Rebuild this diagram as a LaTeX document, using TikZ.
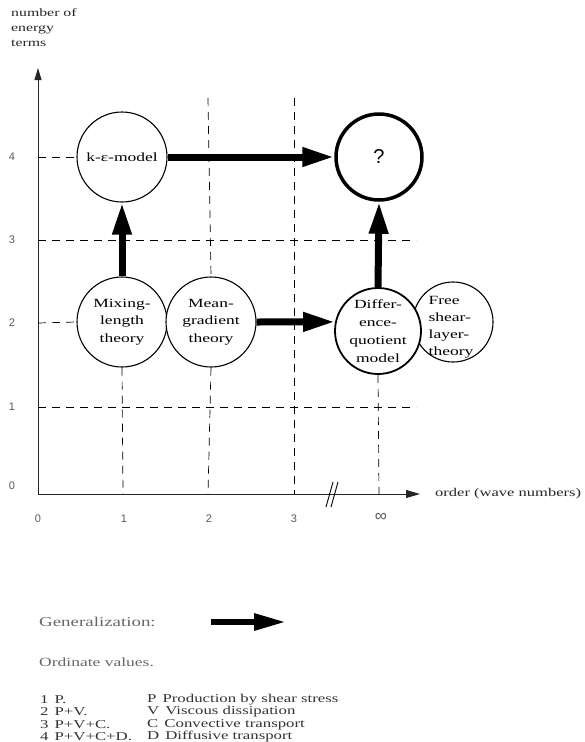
\documentclass[tikz,border=0pt]{standalone}
\usepackage{fontspec}
\setmainfont{Liberation Serif}[FakeStretch=1.4]
\newfontfamily\axisfont{Liberation Sans}
\usetikzlibrary{arrows.meta}
\begin{document}
\begin{tikzpicture}[x=1pt,y=-1pt,
  gridline/.style={dash pattern=on 8pt off 6pt, line width=0.7pt, black},
  axisline/.style={line width=0.9pt, black!85},
  bubble/.style={circle, draw, line width=1.1pt, fill=white, minimum size=90pt, inner sep=0pt, align=center, font=\fontsize{12.5}{17.5}\selectfont},
  genarrow/.style={line width=7pt, -{Triangle[length=32pt,width=18pt]}},
  lbl/.style={font=\fontsize{11.5}{15}\selectfont, text=black!85, inner sep=0pt},
  num/.style={font=\axisfont\fontsize{11}{13}\selectfont, text=black!65, inner sep=0pt},
  legend/.style={font=\fontsize{12}{14}\selectfont, text=black!80, inner sep=0pt, anchor=west},
]
\useasboundingbox (0,0) rectangle (584,742);

% header
\node[lbl, anchor=north west, align=left, font=\fontsize{11.3}{15}\selectfont] (hdr) at (11,8) {number of\\energy\\terms};

% axes
\coordinate (O) at (38,494);
\coordinate (ytip) at (38,68);
\coordinate (xtip) at (420,494);
\draw[axisline, -{Triangle[length=12pt,width=7pt]}] (O) -- (ytip);
\draw[axisline, -{Triangle[length=14pt,width=8pt]}] (O) -- (xtip);
\coordinate (b1a) at (326,507); \coordinate (b1b) at (333,482);
\coordinate (b2a) at (331,507); \coordinate (b2b) at (338,482);
\draw[line width=0.9pt] (b1a) -- (b1b);
\draw[line width=0.9pt] (b2a) -- (b2b);

% nodes
\node[bubble] (k) at (122,157) {k-ε-model};
\node[bubble, line width=3.5pt, minimum size=86pt, font=\axisfont\fontsize{20}{20}\selectfont] (q) at (379,157) {?};
\node[bubble] (mix) at (122,322) {Mixing-\\length\\theory};
\node[bubble] (mean) at (211,322) {Mean-\\gradient\\theory};
\node[bubble, minimum size=80pt] (free) at (453,322) {};
\node[bubble, line width=1.8pt, minimum size=86pt, font=\fontsize{12.5}{18}\selectfont] (diff) at (378,331) {Differ-\\ence-\\quotient\\model};
\node[align=left, inner sep=0pt, font=\fontsize{12.5}{17}\selectfont] (freetxt) at (451,327) {Free\\shear-\\layer-\\theory};

% grid lines
\coordinate (h4) at (38,157);
\coordinate (h3a) at (38,240); \coordinate (h3b) at (416,240);
\coordinate (h2) at (38,323);
\coordinate (h1a) at (38,407); \coordinate (h1b) at (416,407);
\coordinate (v1) at (123,494);
\coordinate (v2a) at (208,98); \coordinate (v2b) at (208,494);
\coordinate (v3a) at (294,98); \coordinate (v3b) at (294,494);
\coordinate (v4) at (379,494);
\draw[gridline] (h4) -- (k.west);
\draw[gridline] (h3a) -- (h3b);
\draw[gridline] (h2) -- (mix.west);
\draw[gridline] (h1a) -- (h1b);
\draw[gridline] (mix.south) -- (v1);
\draw[gridline] (v2a) -- (mean.north);
\draw[gridline] (mean.south) -- (v2b);
\draw[gridline] (v3a) -- (v3b);
\draw[gridline] (diff.south) -- (v4);

% generalization arrows
\draw[genarrow] (k.east) -- (q.west);
\draw[genarrow] (mix.north) -- (k.south);
\draw[genarrow] (mean.east) -- (diff.168);
\draw[genarrow] (diff.north) -- (q.south);

% axis numbers
\node[num] (y4) at (12,157) {4};
\node[num] (y3) at (12,240) {3};
\node[num] (y2) at (12,323) {2};
\node[num] (y1) at (12,407) {1};
\node[num] (y0) at (12,486) {0};
\node[num] (x0) at (38,519) {0};
\node[num] (x1) at (124,519) {1};
\node[num] (x2) at (209,519) {2};
\node[num] (x3) at (294,519) {3};
\node[num, font=\axisfont\fontsize{17}{17}\selectfont] (xinf) at (381,517) {∞};
\node[lbl, anchor=west, font=\fontsize{11.8}{14}\selectfont] (xlab) at (435,494) {order (wave numbers)};

% legend
\node[legend, font=\fontsize{13.5}{15}\selectfont, text=black!60] (gen) at (39,622) {Generalization:};
\coordinate (ga) at (211,622);
\coordinate (gb) at (286,622);
\draw[line width=6pt, -{Triangle[length=32pt,width=16pt]}] (ga) -- (gb);
\node[legend, font=\fontsize{12.5}{15}\selectfont, text=black!60] (ord) at (39,662) {Ordinate values.};

\node[legend] (l1a) at (40,700) {1\hspace{0.5em}P.};
\node[legend] (l2a) at (40,712) {2\hspace{0.5em}P+V.};
\node[legend] (l3a) at (40,725) {3\hspace{0.5em}P+V+C.};
\node[legend] (l4a) at (40,737) {4\hspace{0.5em}P+V+C+D.};
\node[legend] (l1b) at (147,700) {P\hspace{0.5em}Production by shear stress};
\node[legend] (l2b) at (147,712) {V\hspace{0.5em}Viscous dissipation};
\node[legend] (l3b) at (147,725) {C\hspace{0.5em}Convective transport};
\node[legend] (l4b) at (147,737) {D\hspace{0.5em}Diffusive transport};
\end{tikzpicture}
\end{document}
